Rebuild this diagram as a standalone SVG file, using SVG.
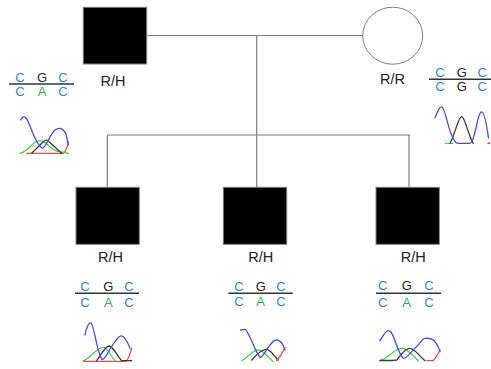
<svg xmlns="http://www.w3.org/2000/svg" width="491" height="369" viewBox="0 0 491 369">
  <style>
    .bg { fill: #ffffff; }
    .affected { fill: #000000; stroke: #7f7f7f; stroke-width: 1; }
    .unaffected { fill: #ffffff; stroke: #7f7f7f; stroke-width: 1; }
    .link { fill: none; stroke: #7f7f7f; stroke-width: 1.2; }
    .geno { font-family: "Liberation Sans", Arial, sans-serif; font-size: 14.5px; fill: #222222; text-anchor: middle; }
    .base { font-family: "Liberation Sans", Arial, sans-serif; font-size: 13px; text-anchor: middle; }
    .c { fill: #2a8ad8; }
    .g { fill: #222222; }
    .a { fill: #2db34a; }
    .rule { stroke: #333333; stroke-width: 1.4; }
    .tr { fill: none; stroke-width: 1.3; stroke-linejoin: round; stroke-linecap: round; }
    .tb { stroke: #4a4af0; }
    .tg { stroke: #3ddc3d; }
    .tk { stroke: #3a3a3a; }
    .trd { stroke: #ee4a4a; }
  </style>

  <rect class="bg" x="0" y="0" width="491" height="369"/>

  <!-- pedigree connectors -->
  <g id="connectors">
    <path class="link" d="M147,35.5 H363"/>
    <path class="link" d="M256.7,35.5 V135"/>
    <path class="link" d="M107.3,135 H410"/>
    <path class="link" d="M107.3,135 V187"/>
    <path class="link" d="M256.7,135 V187"/>
    <path class="link" d="M409,135 V187"/>
  </g>

  <!-- father -->
  <g id="father">
    <rect class="affected" x="83.3" y="7.3" width="63.4" height="56.7"/>
    <text class="geno" x="113" y="85.5">R/H</text>
    <g class="base">
      <text class="c" x="20" y="81.7">C</text>
      <text class="g" x="42" y="81.7">G</text>
      <text class="c" x="63" y="81.7">C</text>
      <line class="rule" x1="9" y1="84" x2="74" y2="84"/>
      <text class="c" x="20" y="96">C</text>
      <text class="a" x="42" y="96">A</text>
      <text class="c" x="63" y="96">C</text>
    </g>
    <path class="tr trd" d="M26.7,153.3 L63.3,153.3 Q67,150 68.3,141.7"/>
    <path class="tr tg" d="M20,153.3 C28,152 32,141 40,140.7 C46,140 50,150 56.7,151 L68.3,153.3"/>
    <path class="tr tk" d="M31.7,153.3 L43.3,141.7 Q46.7,138.5 49,141.7 L61.7,153.3"/>
    <path class="tr tb" d="M20.7,120 C22,117 24,116 26,118 C30,122 34,142 41.7,148 C45,150 50,134 55,130 C59,127 63,128 66,134 L68.3,145"/>
  </g>

  <!-- mother -->
  <g id="mother">
    <ellipse class="unaffected" cx="392.7" cy="35.7" rx="30" ry="28.5"/>
    <text class="geno" x="392.5" y="83.5">R/R</text>
    <g class="base">
      <text class="c" x="440" y="76.7">C</text>
      <text class="g" x="461.7" y="76.7">G</text>
      <text class="c" x="482.3" y="76.7">C</text>
      <line class="rule" x1="429" y1="79.3" x2="491" y2="79.3"/>
      <text class="c" x="440" y="91">C</text>
      <text class="g" x="461.7" y="91">G</text>
      <text class="c" x="482.3" y="91">C</text>
    </g>
    <path class="tr tg" d="M445,143.3 L453,143.3"/>
    <path class="tr trd" d="M488,143.5 L490,143"/>
    <path class="tr tk" d="M450,143.3 C455,135 458,117 461.7,116.7 C465,117 468,135 473.3,143.3"/>
    <path class="tr tb" d="M435,118 C438,110 440,106 442,107 C445,108 448,128 452,136 C454,141 456,143.3 458,143.3 L470,143.3 C473,143 474,135 476,128 C478,118 480,111 482,112 C485,113 487,128 488.5,138"/>
  </g>

  <!-- first son -->
  <g id="son1">
    <rect class="affected" x="76" y="187.3" width="63.3" height="57"/>
    <text class="geno" x="110.5" y="262">R/H</text>
    <g class="base">
      <text class="c" x="85" y="290.7">C</text>
      <text class="g" x="108.3" y="290.7">G</text>
      <text class="c" x="129" y="290.7">C</text>
      <line class="rule" x1="75" y1="293.3" x2="139" y2="293.3"/>
      <text class="c" x="85" y="306.7">C</text>
      <text class="a" x="108.3" y="306.7">A</text>
      <text class="c" x="129" y="306.7">C</text>
    </g>
    <path class="tr trd" d="M83.3,361.3 L126,361.3 C129,359 130,354 131.7,348.3"/>
    <path class="tr tg" d="M83.3,360.7 C90,359 97,347 103.3,347.3 C108,347.5 111,357 115,360.7"/>
    <path class="tr tk" d="M96.7,360.7 C101,355 105,346 109.3,346 C113,346 117,356 121.7,360.7 L131.7,360.7"/>
    <path class="tr tb" d="M85,335 C87,326 89,322 91,323 C94,325 97,352 101.7,359 C104,362 110,348 115,341.7 C118,337 120,335 122,336 C126,338 128,343 130,348.3"/>
  </g>

  <!-- second son -->
  <g id="son2">
    <rect class="affected" x="223.3" y="187.3" width="63.4" height="57"/>
    <text class="geno" x="260.8" y="262">R/H</text>
    <g class="base">
      <text class="c" x="239" y="290.7">C</text>
      <text class="g" x="260.7" y="290.7">G</text>
      <text class="c" x="281" y="290.7">C</text>
      <line class="rule" x1="228.3" y1="293.3" x2="292.7" y2="293.3"/>
      <text class="c" x="239" y="305.7">C</text>
      <text class="a" x="260.7" y="305.7">A</text>
      <text class="c" x="281" y="305.7">C</text>
    </g>
    <path class="tr tg" d="M241.7,360.7 C248,357 253,350 258.3,350 C263,350 268,357 273.3,361.7"/>
    <path class="tr tk" d="M251.7,360 C256,355 262,349 266.7,349.3 C271,350 274,356 278.3,360"/>
    <path class="tr trd" d="M276.7,360.7 C280,357 283,352 285,347.3"/>
    <path class="tr tb" d="M240.7,330 L245,329.3 C249,331 254,350 260,357.3 C263,358 266,349 270,345 C273,341 275,340 277,340 C281,340 283,344 285,350"/>
  </g>

  <!-- third son -->
  <g id="son3">
    <rect class="affected" x="376" y="187.3" width="63.3" height="57"/>
    <text class="geno" x="413.2" y="262">R/H</text>
    <g class="base">
      <text class="c" x="382.7" y="290">C</text>
      <text class="g" x="406.7" y="290">G</text>
      <text class="c" x="429" y="290">C</text>
      <line class="rule" x1="376" y1="293.3" x2="441" y2="293.3"/>
      <text class="c" x="382.7" y="306.7">C</text>
      <text class="a" x="406.7" y="306.7">A</text>
      <text class="c" x="429" y="306.7">C</text>
    </g>
    <path class="tr trd" d="M426.7,360.7 L433,360.7 C436,358 438,354 440,350"/>
    <path class="tr tg" d="M380,360.7 C388,358 392,352 396.7,350 C400,348 402,348 403.3,348.3 C409,350 414,357 418.3,360.7"/>
    <path class="tr tk" d="M380,360.5 L391,360.5 C393,360.5 395,360 396.7,360 C401,355 405,348 410,348.3 C415,348.5 420,357 425,360.7"/>
    <path class="tr tb" d="M380,340.7 C383,336 386,330 388.3,330.7 C391,331 392,333 394,338 C397,346 400,356 403.3,358.3 C406,360 412,350 418.3,345 C421,341 423,338.5 425,338.3 C429,338 433,339 435,341.7 C437,344 439,348 440,351.7"/>
  </g>
</svg>
